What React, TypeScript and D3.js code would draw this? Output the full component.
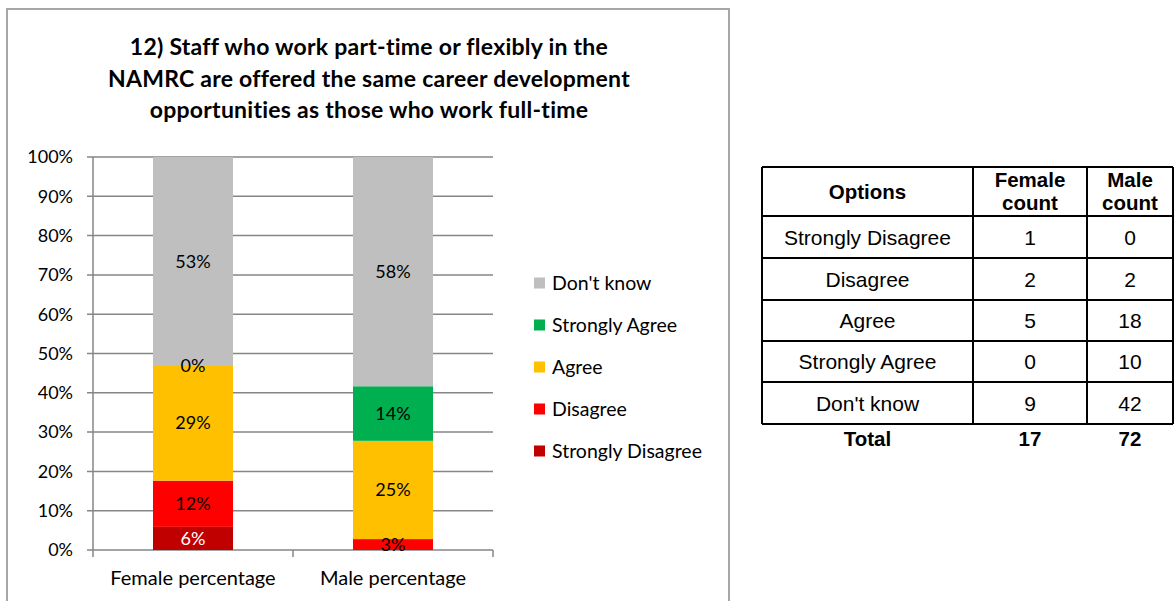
import React from "react";
import * as d3 from "d3";

const categories = ["Female percentage", "Male percentage"];
const seriesNames = ["Strongly Disagree", "Disagree", "Agree", "Strongly Agree", "Don't know"];
const seriesColors = ["#c00000", "#ff0000", "#ffc000", "#00b050", "#bfbfbf"];
const labelColors = ["#ffffff", "#000000", "#000000", "#000000", "#000000"];
const femaleCounts = [1, 2, 5, 0, 9];
const maleCounts = [0, 2, 18, 10, 42];
// whether a data label is drawn for each segment (Excel hid the male 0% one)
const femaleShowLabel = [true, true, true, true, true];
const maleShowLabel = [false, true, true, true, true];
const yTicks = [0, 0.1, 0.2, 0.3, 0.4, 0.5, 0.6, 0.7, 0.8, 0.9, 1];
const titleLines = [
  "12) Staff who work part-time or flexibly in the",
  "NAMRC are offered the same career development",
  "opportunities as those who work full-time",
];
const tableHeader = [["Options"], ["Female", "count"], ["Male", "count"]];
const tableOptions = ["Strongly Disagree", "Disagree", "Agree", "Strongly Agree", "Don't know"];
const tableFemale = [1, 2, 5, 0, 9];
const tableMale = [0, 2, 18, 10, 42];
const totalRow = ["Total", "17", "72"];

const W = 1175;
const H = 601;
const FONT = "Lato, 'Open Sans', sans-serif";
const TFONT = "'Liberation Sans', Arial, sans-serif";

export default function App() {
  const plot = { left: 93, right: 493, top: 157, bottom: 550 };
  const x = d3.scaleBand<string>().domain(categories).range([plot.left, plot.right]).paddingInner(0.6).paddingOuter(0.3);
  const xCat = d3.scaleBand<string>().domain(categories).range([plot.left, plot.right]);
  const y = d3.scaleLinear().domain([0, 1]).range([plot.bottom, plot.top]);
  const fmt = d3.format(".0%");

  const countsByCat = [femaleCounts, maleCounts];
  const showByCat = [femaleShowLabel, maleShowLabel];
  const rows = categories.map((c, ci) => {
    const counts = countsByCat[ci];
    const total = d3.sum(counts);
    const obj: any = { cat: c };
    seriesNames.forEach((s, si) => (obj[s] = counts[si] / total));
    return obj;
  });
  const stacked = d3.stack<any>().keys(seriesNames)(rows);

  const legendX = 534;
  const legendY = [283, 325, 367, 409, 451];

  const colX = [762, 973, 1087, 1173];
  const rowY = [167, 216, 258, 300, 341, 382, 424];

  return (
    <svg width={W} height={H} style={{ position: "absolute", left: 0, top: 0, background: "#fff" }}>
      <rect x={7} y={9} width={722} height={H + 10} fill="#fff" stroke="#a6a6a6" strokeWidth={2} />
      {titleLines.map((t, i) => (
        <text key={i} x={369} y={55 + i * 31.5} textAnchor="middle" fontFamily={FONT} fontWeight={700} fontSize={23} letterSpacing={0.25} fill="#000">
          {t}
        </text>
      ))}
      {/* gridlines */}
      {yTicks.map((t) => (
        <g key={t}>
          <line x1={plot.left - 6} x2={plot.right} y1={y(t)} y2={y(t)} stroke="#868686" strokeWidth={1.5} />
          <text x={73} y={y(t)} dy="0.35em" textAnchor="end" fontFamily={FONT} fontSize={18} fill="#000">
            {fmt(t)}
          </text>
        </g>
      ))}
      <line x1={plot.left} x2={plot.left} y1={plot.top} y2={plot.bottom + 7} stroke="#868686" strokeWidth={1.5} />
      {categories.map((c) => (
        <line key={c} x1={(xCat(c) as number) + xCat.bandwidth()} x2={(xCat(c) as number) + xCat.bandwidth()} y1={plot.bottom} y2={plot.bottom + 7} stroke="#868686" strokeWidth={1.5} />
      ))}
      {/* bars */}
      {stacked.map((layer, si) => (
        <g key={layer.key}>
          {layer.map((d, ci) => (
            <rect key={ci} x={x(categories[ci])} width={x.bandwidth()} y={y(d[1])} height={Math.max(0, y(d[0]) - y(d[1]))} fill={seriesColors[si]} />
          ))}
        </g>
      ))}
      {stacked.map((layer, si) => (
        <g key={layer.key + "l"}>
          {layer.map((d, ci) =>
            showByCat[ci][si] ? (
              <text key={ci} x={(x(categories[ci]) as number) + x.bandwidth() / 2} y={(y(d[0]) + y(d[1])) / 2} dy="0.36em" textAnchor="middle" fontFamily={FONT} fontSize={18} fill={labelColors[si]}>
                {fmt(d[1] - d[0])}
              </text>
            ) : null
          )}
        </g>
      ))}
      {categories.map((c) => (
        <text key={c} x={(xCat(c) as number) + xCat.bandwidth() / 2} y={585} textAnchor="middle" fontFamily={FONT} fontSize={20} fill="#000">
          {c}
        </text>
      ))}
      {/* legend */}
      {seriesNames
        .slice()
        .reverse()
        .map((s, i) => {
          const si = seriesNames.length - 1 - i;
          return (
            <g key={s}>
              <rect x={legendX} y={legendY[i] - 5.5} width={11} height={11} fill={seriesColors[si]} />
              <text x={552} y={legendY[i]} dy="0.36em" fontFamily={FONT} fontSize={19.5} fill="#000">
                {s}
              </text>
            </g>
          );
        })}
      {/* table */}
      <g fontFamily={TFONT} fill="#000">
        {rowY.map((ry, i) => (
          <line key={"h" + i} x1={colX[0]} x2={colX[3]} y1={ry} y2={ry} stroke="#000" strokeWidth={2} />
        ))}
        {colX.map((cx, i) => (
          <line key={"v" + i} x1={cx} x2={cx} y1={rowY[0]} y2={rowY[6]} stroke="#000" strokeWidth={2} />
        ))}
        {tableHeader.map((lines, ci) => {
          const cx = (colX[ci] + colX[ci + 1]) / 2;
          const cy = (rowY[0] + rowY[1]) / 2;
          return lines.map((l, li) => (
            <text key={ci + "-" + li} x={cx} y={cy + (li - (lines.length - 1) / 2) * 23} dy="0.36em" textAnchor="middle" fontWeight={700} fontSize={20.5}>
              {l}
            </text>
          ));
        })}
        {tableOptions.map((o, ri) => {
          const cy = (rowY[ri + 1] + rowY[ri + 2]) / 2;
          const vals = [o, String(tableFemale[ri]), String(tableMale[ri])];
          return vals.map((v, ci) => (
            <text key={ri + "-" + ci} x={(colX[ci] + colX[ci + 1]) / 2} y={cy} dy="0.36em" textAnchor="middle" fontSize={21}>
              {v}
            </text>
          ));
        })}
        {totalRow.map((v, ci) => (
          <text key={"t" + ci} x={(colX[ci] + colX[ci + 1]) / 2} y={439} dy="0.36em" textAnchor="middle" fontWeight={700} fontSize={20.5}>
            {v}
          </text>
        ))}
      </g>
    </svg>
  );
}
